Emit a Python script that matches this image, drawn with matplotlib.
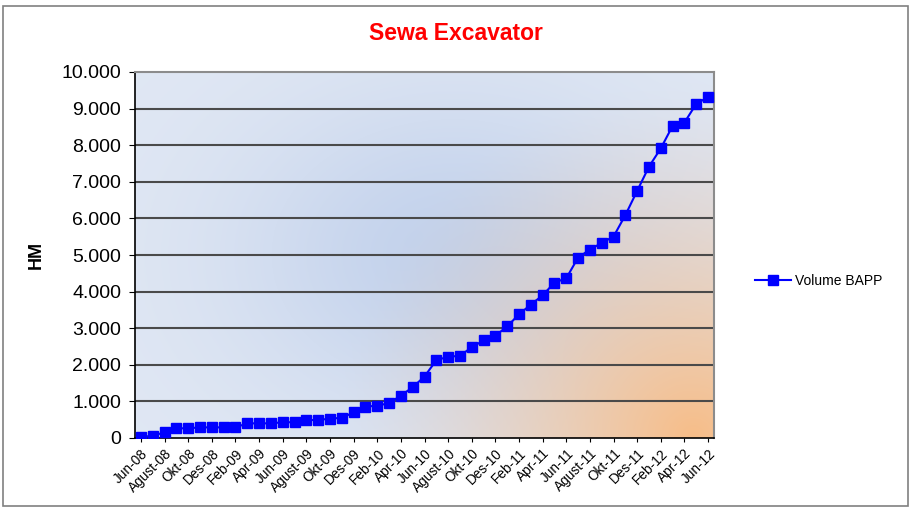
import numpy as np
import matplotlib
matplotlib.use("Agg")
import matplotlib.pyplot as plt
from matplotlib.patches import Rectangle
from matplotlib.colors import to_rgb

plt.rcParams['font.family'] = ['Liberation Sans', 'DejaVu Sans']

# monthly values, Jun-08 .. Jun-12
volume_bapp = [30, 60, 155, 265, 265, 290, 290, 290, 290, 400,
               400, 400, 430, 430, 490, 490, 530, 550, 700, 855,
               885, 950, 1160, 1385, 1680, 2125, 2220, 2245, 2480, 2665,
               2795, 3050, 3380, 3645, 3900, 4245, 4365, 4930, 5150, 5330,
               5505, 6090, 6755, 7415, 7915, 8530, 8620, 9130, 9315]
tick_labels = ['Jun-08', 'Agust-08', 'Okt-08', 'Des-08', 'Feb-09', 'Apr-09',
               'Jun-09', 'Agust-09', 'Okt-09', 'Des-09', 'Feb-10', 'Apr-10',
               'Jun-10', 'Agust-10', 'Okt-10', 'Des-10', 'Feb-11', 'Apr-11',
               'Jun-11', 'Agust-11', 'Okt-11', 'Des-11', 'Feb-12', 'Apr-12',
               'Jun-12']
y_ticks = list(range(0, 10001, 1000))

fig = plt.figure(figsize=(9.11, 5.08), dpi=100)
fig.patch.set_facecolor('white')
fig.add_artist(Rectangle((0.003, 0.003), 0.994, 0.986, transform=fig.transFigure,
                         fill=False, edgecolor='#808080', lw=1.2))

ax = fig.add_axes([135 / 911, 1 - 438 / 508, 579 / 911, 366 / 508])

x = np.arange(len(volume_bapp))

# background gradient: blue with an orange glow in the bottom-right corner
W, H = 400, 250
u = np.linspace(0, 1, W)[None, :]
v = np.linspace(1, 0, H)[:, None]
light = np.array(to_rgb('#e1e8f4'))
blue = np.array(to_rgb('#c3d2ec'))
orange = np.array(to_rgb('#f7bd88'))
f = np.exp(-(((u - 0.55) ** 2) * 1.4 + (v - 0.5) ** 2) / 0.2)
img = light + (blue - light) * f[..., None]
dpx = np.sqrt(((1 - u) * 579 - 20) ** 2 + (v * 366) ** 2)
w = np.clip(1 - dpx / 360, 0, 1) ** 1.4
img = img * (1 - w[..., None]) + orange * w[..., None]
ax.imshow(img, extent=[-0.5, len(volume_bapp) - 0.5, 0, 10000], aspect='auto',
          zorder=0, origin='upper')

for yt in y_ticks[1:-1]:
    ax.axhline(yt, color='#4a4a4a', lw=1.5, zorder=1)

ax.plot(x, volume_bapp, color='#0000ff', lw=1.5, marker='s', markersize=7.5,
        markeredgecolor='#0000ff', label='Volume BAPP', zorder=3)

ax.set_xlim(-0.5, len(volume_bapp) - 0.5)
ax.set_ylim(0, 10000)
ax.set_yticks(y_ticks)
ax.set_yticklabels([f"{t:,}".replace(',', '.') for t in y_ticks], fontsize=14)
ax.set_xticks(x[::2])
ax.set_xticklabels(tick_labels, rotation=45, ha='right', rotation_mode='anchor',
                   fontsize=9.8)
ax.tick_params(axis='x', length=3, pad=3)
ax.tick_params(axis='y', length=4, pad=6)

for s in ['left', 'bottom']:
    ax.spines[s].set_color('black')
    ax.spines[s].set_linewidth(1.2)
for s in ['top', 'right']:
    ax.spines[s].set_color('#8c8c8c')
    ax.spines[s].set_linewidth(1.5)

ax.set_ylabel('HM', fontsize=13, fontweight='bold', labelpad=12)
fig.text(0.5, 1 - 34 / 508, 'Sewa Excavator', color='#ff0000', fontsize=16.5,
         fontweight='bold', ha='center', va='center')

fig.legend(loc='center left', bbox_to_anchor=(0.815, 1 - 281 / 508), frameon=False,
           fontsize=10, handlelength=2.6, handletextpad=0.3)

fig.savefig('out.png', dpi=100)
